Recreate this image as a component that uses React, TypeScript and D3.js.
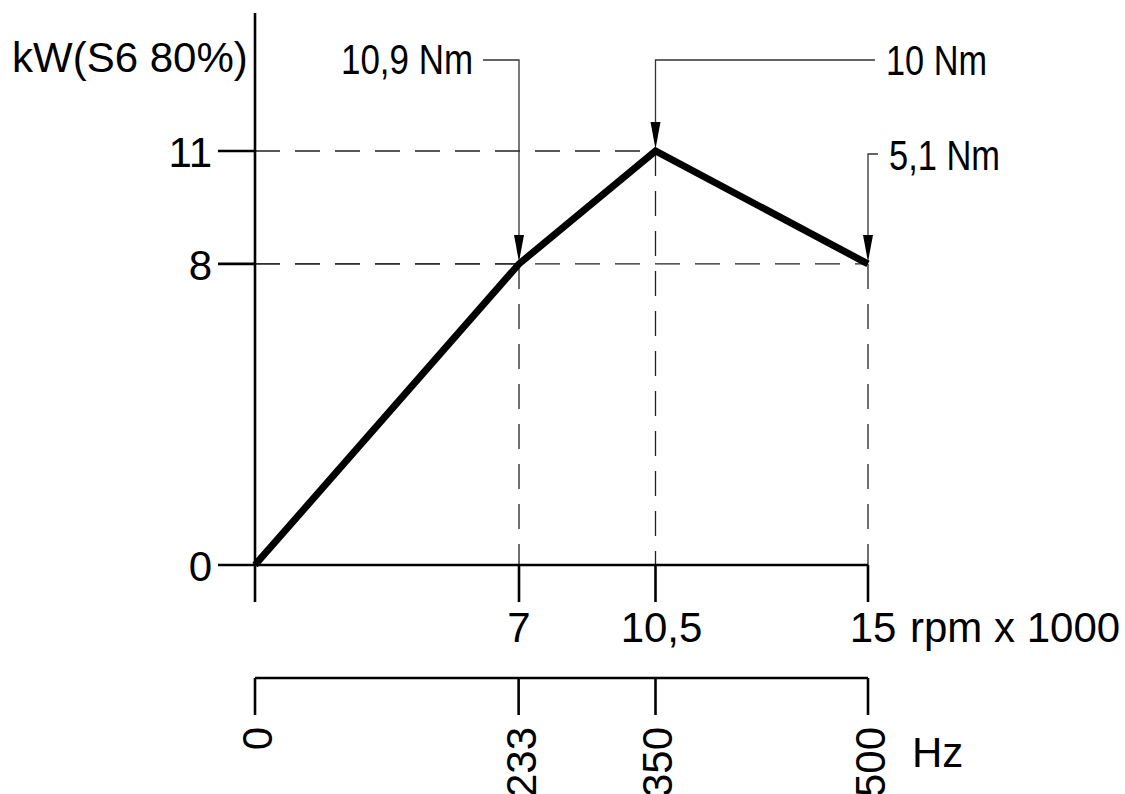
import * as d3 from "d3";
import React from "react";

// rpm x 1000 ticks and the power curve points
const rpmTicks = [0, 7, 10.5, 15];
const rpmLabels = ["", "7", "10,5", "15"];
const powerKw = [0, 8, 11, 8];
const kwTicks = [0, 8, 11];
const hzTicks = [0, 233, 350, 500];
const torqueLabels = ["10,9 Nm", "10 Nm", "5,1 Nm"];
const torqueAt = [7, 10.5, 15];

const W = 1125;
const H = 794;
const FONT = "'Liberation Sans', Arial, sans-serif";

// drawing is schematic, so the rpm scale is piecewise
const x = d3.scaleLinear().domain(rpmTicks).range([255, 519, 655.5, 868]);
const y = d3.scaleLinear().domain([0, 11]).range([565, 151]);
const hz = (v: number) => x((v * 30) / 1000);

const axisY0 = y(0);
const hzAxisY = 678;
const tickLen = 37;

// annotation layout: leader height, text baseline, text side, text box
const notes = [
  { leaderY: 60, baseY: 74, side: "left", textX: 341, len: 132, leaderEnd: 483 },
  { leaderY: 60, baseY: 75, side: "right", textX: 886, len: 101, leaderEnd: 875 },
  { leaderY: 154, baseY: 170, side: "right", textX: 889, len: 111, leaderEnd: 878 },
];

const App: React.FC = () => {
  const line = d3
    .line<number>()
    .x((_, i) => x(rpmTicks[i]))
    .y(d => y(d));

  const textStyle = { fontFamily: FONT, fontSize: 42, fill: "#000" };

  return (
    <svg
      width={W}
      height={H}
      style={{ position: "absolute", left: 0, top: 0, background: "#fff" }}
    >
      {/* dashed guides */}
      <g stroke="#222" strokeWidth={1.3} strokeDasharray="25 15" fill="none">
        {powerKw.slice(1).map((v, i) => (
          <line
            key={"h" + i}
            x1={x(0)}
            x2={x(rpmTicks[i + 1])}
            y1={y(v)}
            y2={y(v)}
          />
        ))}
        {powerKw.slice(1).map((v, i) => (
          <line
            key={"v" + i}
            x1={x(rpmTicks[i + 1])}
            x2={x(rpmTicks[i + 1])}
            y1={y(v)}
            y2={axisY0}
          />
        ))}
      </g>

      {/* axes */}
      <g stroke="#000" strokeWidth={2.6} fill="none">
        <line x1={x(0)} x2={x(0)} y1={13} y2={axisY0 + tickLen} />
        <line x1={x(0) - tickLen} x2={x(15)} y1={axisY0} y2={axisY0} />
        {kwTicks.slice(1).map(v => (
          <line key={v} x1={x(0) - tickLen} x2={x(0)} y1={y(v)} y2={y(v)} />
        ))}
        {rpmTicks.slice(1).map(v => (
          <line key={v} x1={x(v)} x2={x(v)} y1={axisY0} y2={axisY0 + tickLen} />
        ))}
        <line x1={hz(0)} x2={hz(500)} y1={hzAxisY} y2={hzAxisY} />
        {hzTicks.map(v => (
          <line key={v} x1={hz(v)} x2={hz(v)} y1={hzAxisY} y2={hzAxisY + tickLen} />
        ))}
      </g>

      {/* curve */}
      <path
        d={line(powerKw) ?? ""}
        fill="none"
        stroke="#000"
        strokeWidth={7}
        strokeLinejoin="miter"
      />

      {/* torque leaders */}
      <g stroke="#333" strokeWidth={1.3} fill="none">
        {torqueAt.map((r, i) => {
          const n = notes[i];
          const px = x(r);
          const tip = y(powerKw[i + 1]) - 2;
          return (
            <g key={i}>
              <polyline
                points={`${n.leaderEnd},${n.leaderY} ${px},${n.leaderY} ${px},${tip - 26}`}
              />
              <path
                d={`M${px},${tip} L${px - 5},${tip - 27} L${px + 5},${tip - 27} Z`}
                fill="#000"
                stroke="none"
              />
            </g>
          );
        })}
      </g>
      {torqueLabels.map((t, i) => (
        <text
          key={t}
          x={notes[i].textX}
          y={notes[i].baseY}
          textLength={notes[i].len}
          lengthAdjust="spacingAndGlyphs"
          style={textStyle}
        >
          {t}
        </text>
      ))}

      {/* labels */}
      <text x={12} y={72} style={textStyle}>
        kW(S6 80%)
      </text>
      {kwTicks.map(v => (
        <text
          key={v}
          x={x(0) - tickLen - 6}
          y={y(v)}
          dy="0.38em"
          textAnchor="end"
          style={textStyle}
        >
          {v}
        </text>
      ))}
      {rpmTicks.map((v, i) => (
        <text
          key={v}
          x={x(v) + (i === 2 ? 6 : i === 3 ? 5 : 0)}
          y={642}
          textAnchor="middle"
          style={textStyle}
        >
          {rpmLabels[i]}
        </text>
      ))}
      <text x={910} y={642} style={textStyle}>
        rpm x 1000
      </text>
      {hzTicks.map(v => (
        <text
          key={v}
          transform={`translate(${hz(v) + 1},${727}) rotate(-90)`}
          dy="0.38em"
          textAnchor="end"
          style={textStyle}
        >
          {v}
        </text>
      ))}
      <text x={912} y={767} style={textStyle}>
        Hz
      </text>
    </svg>
  );
};

export default App;
